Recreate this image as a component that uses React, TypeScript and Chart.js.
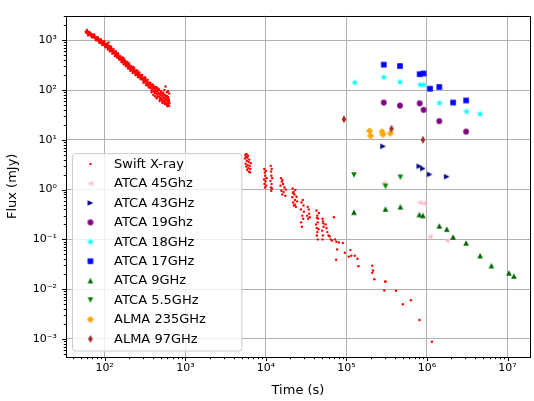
import React, { useEffect, useRef } from 'react';
import { Chart, registerables } from 'chart.js';
Chart.register(...registerables);

// ---------- data: [time (s), flux (mJy)] ----------
const swiftEarly: [number, number][] = [
  [58,1480],[59,1400],[61,1520],[62,1350],[63,1440],[64,1300],[66,1390],[67,1250],[68,1330],[70,1200],
  [71,1290],[72,1150],[73,1230],[75,1120],[76,1180],[77,1060],[79,1130],[80,1020],[81,1090],[83,980],
  [84,1050],[85,940],[87,1000],[88,900],[90,960],[91,870],[92,930],[94,850],[95,900],[97,820],
  [98,870],[100,790],[101,850],[103,760],[104,820],[106,730],[108,790],[110,700],[111,900],[113,680],
  [115,720],[117,640],[119,690],[121,610],[123,650],[125,580],[127,620],[129,550],[131,590],[134,520],
  [136,560],[139,490],[141,530],[144,460],[147,500],[150,440],[152,470],[155,415],[158,445],[161,390],
  [164,420],[167,370],[170,395],[173,345],[176,375],[179,330],[182,355],[186,310],[189,335],[193,295],
  [196,318],[200,280],[204,300],[208,265],[212,285],[216,250],[220,270],[225,238],[229,256],[234,225],
  [238,244],[243,212],[247,230],[252,200],[257,218],[262,190],[267,206],[272,180],[277,195],[283,170],
  [288,184],[294,160],[299,174],[305,150],[311,163],[317,142],[323,154],[330,133],[336,146],[343,125],
  [350,137],[357,117],[364,128],[372,110],[380,120],[387,103],[395,112],[403,96],[411,106],[420,90],
  [428,100],[436,84],[445,94],[453,79],[462,88],[471,74],[480,83],[490,70],[500,78],[510,66],
  [520,74],[530,62],[540,70],[550,59],[560,66],[570,56],[580,63],[590,53],[600,60],[610,50],
  [620,57],[630,48],[635,54],[450,110],[470,100],[500,95],[530,88],[560,80],[590,76],[615,72],
  [480,60],[520,55],[560,52],[600,47],[568,118],[420,75],[440,68],[380,90],[400,80],[550,100],
  [590,90],[620,65],[630,85],[610,95],[96,960],[118,760],[145,540],[171,440],[198,350],[226,290],
  [255,240],[286,200],[320,170],[355,140],[390,130],[410,115],[430,108],[455,100],[505,85],[545,78],
  [60,1600],[62,1250],[65,1450],[69,1150],[74,1300],[78,1000],[82,1150],[86,880],[89,1050],[93,800],
  [99,950],[102,720],[107,850],[109,650],[112,780],[116,600],[120,720],[124,540],[128,660],[133,480],
  [137,600],[142,450],[146,540],[151,410],[156,480],[162,360],[166,450],[172,330],[177,400],[183,300],
  [188,370],[195,270],[201,330],[207,245],[214,300],[222,220],[231,275],[240,200],[249,250],[259,180],
  [269,225],[279,165],[291,200],[302,140],[314,180],[326,125],[340,160],[352,112],[368,140],[383,98],
  [398,125],[415,88],[433,115],[448,72],[465,105],[485,65],[495,92],[515,60],[535,82],[555,55],
  [575,72],[595,50],[605,68],[625,60],
];

const swiftLate: [number, number][] = [
  [5500,4.2],[5550,5.0],[5600,3.3],[5650,4.6],[5700,2.9],[5750,5.2],[5800,3.8],[5850,2.5],[5900,4.4],[5950,3.1],
  [6000,4.8],[6050,2.7],[6100,3.6],[6150,2.3],[6200,4.0],[6300,3.0],[6400,2.6],[6500,3.4],[6350,2.2],
  [9500,1.6],[9550,2.6],[9600,1.3],[9700,2.2],[9750,1.1],[9800,1.9],[9900,1.45],[10000,2.4],[10100,1.2],[10200,1.7],
  [11400,1.5],[11500,3.0],[11550,1.1],[11600,2.3],[11650,0.95],[11700,1.9],[11750,1.3],[11800,2.6],[11900,1.05],[12000,1.7],
  [15200,1.2],[15400,1.7],[15600,0.95],[15800,1.45],[16000,0.8],[16300,1.3],[16600,0.9],[17000,1.1],[17400,0.75],[17700,1.0],[16000,1.55],
  [21300,0.7],[21500,1.05],[21800,0.55],[22000,0.9],[22300,0.48],[22600,0.8],[22900,0.62],[23200,0.98],[23600,0.45],[24000,0.72],[24400,0.58],[21700,0.85],[23000,0.5],
  [27200,0.4],[27400,0.22],[27600,0.55],[28000,0.18],[28300,0.3],[28700,0.62],[29000,0.26],[29300,0.48],[29600,0.36],
  [32500,0.3],[33000,0.45],[33500,0.26],[34000,0.4],[34500,0.33],[35000,0.28],
  [42000,0.2],[42500,0.38],[43000,0.12],[43500,0.3],[44000,0.1],[44500,0.26],[45000,0.16],[45500,0.34],[44000,0.22],[43500,0.14],
  [43000,0.27],[42800,0.17],[50000,0.15],[50500,0.26],[51000,0.12],[51500,0.21],[52000,0.18],[50500,0.1],[51000,0.23],
  [55000,0.2],[56500,0.17],[58000,0.14],[60000,0.12],[62000,0.115],[64000,0.1],[66000,0.095],[69800,0.28],[72000,0.1],[75000,0.09],
  [80500,0.087],[90200,0.085],[76700,0.063],[74500,0.039],[95500,0.054],[112000,0.061],[115000,0.047],[107000,0.045],[127000,0.047],
  [137000,0.041],[141000,0.029],[209000,0.0297],[214000,0.0238],[209000,0.0214],[222000,0.0158],[303000,0.0143],[306000,0.0142],
  [295000,0.0094],[411000,0.0093],[631000,0.006],[501000,0.005],[807000,0.0024],[1150000,0.00088],
];

const atca45: [number, number][] = [[290000,1.35],[804000,0.55],[908000,0.526],[1080000,0.114],[1760000,0.094]];
const atca43: [number, number][] = [[285000,7.4],[804000,2.94],[890000,2.65],[1080000,2.02],[1760000,1.82]];
const atca19: [number, number][] = [[290800,56],[462000,48.6],[811000,54],[908000,40],[1420000,23.7],[3060000,14.6]];
const atca18: [number, number][] = [[127000,141],[290800,180],[462000,145],[826000,127],[908000,127],[1430000,54.7],[3090000,37],[4560000,33]];
const atca17: [number, number][] = [[290800,323],[462000,303],[811000,208],[908000,215],[1090000,106],[1420000,115],[2110000,56],[3060000,61.6]];
const atca9: [number, number][] = [[124000,0.351],[305000,0.408],[468000,0.452],[804000,0.316],[890000,0.302],[1420000,0.187],[1760000,0.161],[2110000,0.112],[3060000,0.085],[4560000,0.0471],[6300000,0.0297],[10400000,0.0213],[12000000,0.0184]];
const atca55: [number, number][] = [[124000,1.96],[305000,1.16],[468000,1.77]];
const alma235: [number, number][] = [[193500,15.1],[199000,12],[277000,14.6],[283000,12.8],[351000,13.5]];
const alma97: [number, number][] = [[93100,25.9],[362000,16.7],[890000,10]];

const seriesLabels = ['Swift X-ray','ATCA 45Ghz','ATCA 43GHz','ATCA 19Ghz','ATCA 18GHz','ATCA 17GHz','ATCA 9GHz','ATCA 5.5GHz','ALMA 235GHz','ALMA 97GHz'];
const seriesColors = ['#ff0000','#ffc0cb','#000080','#800080','#00ffff','#0000ff','#006400','#008000','#ffa500','#a52a2a'];
const seriesShapes = ['dot','left','right','circle','star','square','up','down','diamond','thindiamond'];
const seriesData = [[...swiftEarly, ...swiftLate], atca45, atca43, atca19, atca18, atca17, atca9, atca55, alma235, alma97];

const xMin = 33, xMax = 1.9e7;
const yMin = 4.35e-4, yMax = 3.12e3;

const SUP: Record<string, string> = { '0':'⁰','1':'¹','2':'²','3':'³','4':'⁴','5':'⁵','6':'⁶','7':'⁷','8':'⁸','9':'⁹','-':'⁻' };
const decadeLabel = (v: number) => '10' + String(Math.round(Math.log10(v))).split('').map(c => SUP[c]).join('');

function logTicks(min: number, max: number) {
  const out: { value: number; major: boolean }[] = [];
  for (let e = Math.floor(Math.log10(min)); e <= Math.ceil(Math.log10(max)); e++) {
    for (let d = 1; d <= 9; d++) {
      const v = d * Math.pow(10, e);
      if (v >= min && v <= max) out.push({ value: v, major: d === 1 });
    }
  }
  return out;
}

function makeMarker(shape: string, color: string): HTMLCanvasElement {
  const c = document.createElement('canvas');
  c.width = 16; c.height = 16;
  const g = c.getContext('2d')!;
  g.translate(8, 8);
  g.fillStyle = color;
  g.beginPath();
  const poly = (pts: number[][]) => { g.moveTo(pts[0][0], pts[0][1]); for (let i = 1; i < pts.length; i++) g.lineTo(pts[i][0], pts[i][1]); g.closePath(); };
  const h = 2.8;
  switch (shape) {
    case 'square': g.rect(-2.8, -2.8, 5.6, 5.6); break;
    case 'circle': g.arc(0, 0, 2.9, 0, Math.PI * 2); break;
    case 'up': poly([[0,-h],[-h,h],[h,h]]); break;
    case 'down': poly([[0,h],[-h,-h],[h,-h]]); break;
    case 'right': poly([[h,0],[-h,-h],[-h,h]]); break;
    case 'left': poly([[-h,0],[h,-h],[h,h]]); break;
    case 'diamond': poly([[0,-3.6],[3.6,0],[0,3.6],[-3.6,0]]); break;
    case 'thindiamond': poly([[0,-4],[2.3,0],[0,4],[-2.3,0]]); break;
    case 'star': {
      const pts: number[][] = [];
      for (let i = 0; i < 10; i++) {
        const r = i % 2 === 0 ? 3.8 : 1.5;
        const a = -Math.PI / 2 + i * Math.PI / 5;
        pts.push([r * Math.cos(a), r * Math.sin(a)]);
      }
      poly(pts);
      break;
    }
  }
  g.fill();
  return c;
}

export default function App() {
  const ref = useRef<HTMLCanvasElement>(null);
  useEffect(() => {
    const markers = seriesShapes.map((s, i) => (s === 'dot' ? null : makeMarker(s, seriesColors[i])));
    const font = '"DejaVu Sans", sans-serif';

    const framePlugin = {
      id: 'frameTicks',
      afterDraw(chart: any) {
        const { ctx, chartArea } = chart;
        const L = Math.round(chartArea.left), R = Math.round(chartArea.right);
        const T = Math.round(chartArea.top), B = Math.round(chartArea.bottom);
        ctx.save();
        ctx.strokeStyle = '#000';
        ctx.lineWidth = 1;
        ctx.beginPath();
        const xs = chart.scales.x, ys = chart.scales.y;
        for (const t of xs.ticks) {
          const p = Math.round(xs.getPixelForValue(t.value)) + 0.5;
          ctx.moveTo(p, B); ctx.lineTo(p, B + (t.major ? 4 : 2.2));
        }
        for (const t of ys.ticks) {
          const p = Math.round(ys.getPixelForValue(t.value)) + 0.5;
          ctx.moveTo(L, p); ctx.lineTo(L - (t.major ? 4 : 2.2), p);
        }
        ctx.stroke();
        ctx.strokeRect(L + 0.5, T + 0.5, R - L, B - T);
        ctx.restore();
      },
    };

    const legendPlugin = {
      id: 'mplLegend',
      afterDraw(chart: any) {
        const { ctx, chartArea } = chart;
        const n = chart.data.datasets.length;
        const rowH = 19.42;
        const left = chartArea.left + 6;
        const bottom = chartArea.bottom - 6.5;
        const height = rowH * n + 3.2;
        const top = bottom - height;
        const width = 169.4;
        ctx.save();
        ctx.beginPath();
        (ctx as any).roundRect(left + 0.5, top + 0.5, width, height, 2.6);
        ctx.fillStyle = 'rgba(255,255,255,0.8)';
        ctx.fill();
        ctx.strokeStyle = '#cccccc';
        ctx.lineWidth = 1;
        ctx.stroke();
        ctx.font = '13px ' + font;
        ctx.textBaseline = 'middle';
        ctx.textAlign = 'left';
        chart.data.datasets.forEach((ds: any, i: number) => {
          const y = top + 11 + i * rowH;
          const mx = left + 18.4;
          const m = markers[i];
          if (m) {
            ctx.drawImage(m, mx - m.width / 2, y - m.height / 2);
          } else {
            ctx.fillStyle = seriesColors[i];
            ctx.beginPath();
            ctx.arc(mx, y, 1.2, 0, Math.PI * 2);
            ctx.fill();
          }
          ctx.fillStyle = '#000';
          ctx.fillText(ds.label, left + 42, y + 0.5);
        });
        ctx.restore();
      },
    };

    const gridColor = (c: any) => (c.tick && c.tick.major ? '#b0b0b0' : 'rgba(0,0,0,0)');

    const chart = new Chart(ref.current!, {
      type: 'scatter',
      data: {
        datasets: seriesData.map((d, i) => ({
          label: seriesLabels[i],
          data: d.map(([x, y]) => ({ x, y })),
          pointStyle: (markers[i] || 'circle') as any,
          pointRadius: markers[i] ? 3 : 1.2,
          backgroundColor: seriesColors[i],
          borderColor: seriesColors[i],
          borderWidth: 0,
          order: -i,
        })),
      },
      options: {
        animation: false,
        responsive: false,
        events: [],
        layout: { padding: { top: 6, right: 2, left: 0, bottom: 0 } },
        plugins: { legend: { display: false }, tooltip: { enabled: false } },
        scales: {
          x: {
            type: 'logarithmic',
            min: xMin,
            max: xMax,
            bounds: 'data',
            afterBuildTicks: (s: any) => { s.ticks = logTicks(xMin, xMax); },
            afterFit: (s: any) => { s.height = 44; },
            ticks: {
              autoSkip: false,
              maxRotation: 0,
              padding: 5,
              color: '#000',
              font: { family: font, size: 11 },
              callback: (v: any, i: number, ticks: any[]) => (ticks[i].major ? decadeLabel(Number(v)) : ''),
            },
            grid: { color: gridColor, lineWidth: 1, drawTicks: false },
            border: { display: false },
            title: { display: true, text: 'Time (s)', color: '#000', font: { family: font, size: 13 }, padding: { top: 0, bottom: 3 } },
          },
          y: {
            type: 'logarithmic',
            min: yMin,
            max: yMax,
            bounds: 'data',
            afterBuildTicks: (s: any) => { s.ticks = logTicks(yMin, yMax); },
            afterFit: (s: any) => { s.width = 66; },
            ticks: {
              autoSkip: false,
              padding: 9,
              color: '#000',
              font: { family: font, size: 11 },
              callback: (v: any, i: number, ticks: any[]) => (ticks[i].major ? decadeLabel(Number(v)) : ''),
            },
            grid: { color: gridColor, lineWidth: 1, drawTicks: false },
            border: { display: false },
            title: { display: true, text: 'Flux (mJy)', color: '#000', font: { family: font, size: 13 }, padding: { top: 5, bottom: 0 } },
          },
        },
      },
      plugins: [framePlugin, legendPlugin],
    } as any);
    return () => chart.destroy();
  }, []);

  return (
    <div style={{ position: 'fixed', left: 0, top: 0, width: 534, height: 401, background: '#fff' }}>
      <canvas ref={ref} width={534} height={401} style={{ display: 'block' }} />
    </div>
  );
}
